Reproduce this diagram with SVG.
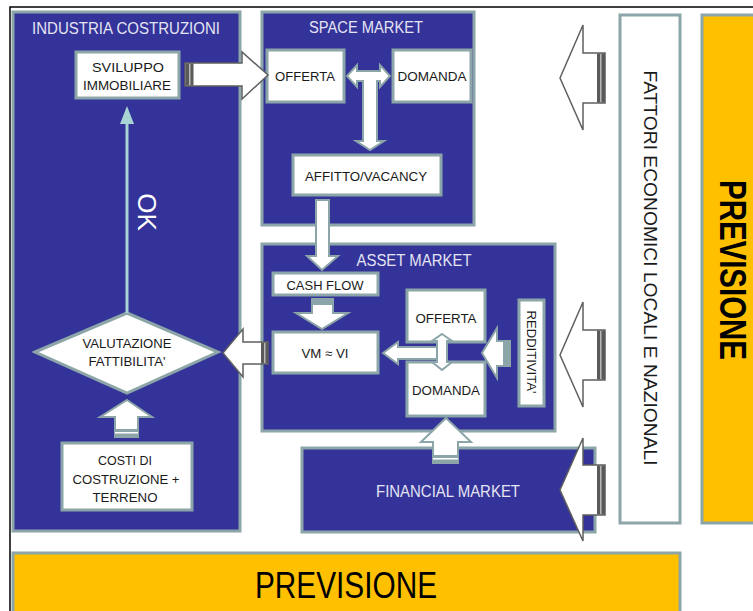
<svg xmlns="http://www.w3.org/2000/svg" width="753" height="611" viewBox="0 0 753 611">
  <style>
    .panel { fill: #333399; stroke: #8ca5a8; stroke-width: 3; }
    .box { fill: #ffffff; stroke: #8ca5a8; stroke-width: 3; }
    .yellow { fill: #ffc000; stroke: #8ca5a8; stroke-width: 3; }
    .title { font-family: "Liberation Sans", Arial, sans-serif; font-size: 16px; fill: #e4e4f4; text-anchor: middle; }
    .lbl { font-family: "Liberation Sans", Arial, sans-serif; font-size: 13px; fill: #1a1a1a; text-anchor: middle; }
    .side { font-size: 19px; }
    .big { font-family: "Liberation Sans", Arial, sans-serif; fill: #000000; text-anchor: middle; }
    .arrowOut { fill: #ffffff; stroke: #5f5f5f; stroke-width: 1.5; stroke-linejoin: miter; }
    .arrowIn { fill: #ffffff; stroke: #8ca5a8; stroke-width: 2; stroke-linejoin: miter; }
    .tailDark { fill: #5a5a5a; }
    .tailLight { fill: #b8b8b8; }
    .tailTeal { fill: #8ca5a8; }
  </style>

  <!-- outer frame lines -->
  <path d="M10,611 V7 H753" fill="none" stroke="#000" stroke-width="1.5"/>

  <!-- forecast bands -->
  <g id="previsione-right">
    <rect class="yellow" x="702" y="15" width="60" height="508"/>
    <text class="big" font-size="37" font-weight="bold" textLength="180" lengthAdjust="spacingAndGlyphs" dominant-baseline="central" transform="translate(732,270) rotate(90)">PREVISIONE</text>
  </g>
  <g id="previsione-bottom">
    <rect class="yellow" x="13" y="553" width="667" height="62"/>
    <text class="big" font-size="36" textLength="182" lengthAdjust="spacingAndGlyphs" x="346" y="598">PREVISIONE</text>
  </g>

  <!-- external economic factors -->
  <g id="fattori">
    <rect class="box" x="620" y="15" width="60" height="508"/>
    <text class="lbl side" textLength="395" lengthAdjust="spacingAndGlyphs" dominant-baseline="central" transform="translate(650,268) rotate(90)">FATTORI ECONOMICI LOCALI E NAZIONALI</text>
  </g>

  <!-- construction industry panel -->
  <g id="industria">
    <rect class="panel" x="13" y="12" width="227" height="519"/>
    <text class="title" x="126" y="34" textLength="188" lengthAdjust="spacingAndGlyphs">INDUSTRIA COSTRUZIONI</text>
  </g>
  <g id="sviluppo">
    <rect class="box" x="76" y="52" width="103" height="46"/>
    <text class="lbl" x="128" y="72" textLength="72" lengthAdjust="spacingAndGlyphs">SVILUPPO</text>
    <text class="lbl" x="127" y="90" textLength="88" lengthAdjust="spacingAndGlyphs">IMMOBILIARE</text>
  </g>
  <g id="valutazione">
    <polygon class="box" points="35,352 127,313 218,352 127,393"/>
    <text class="lbl" x="127" y="348" textLength="89" lengthAdjust="spacingAndGlyphs">VALUTAZIONE</text>
    <text class="lbl" x="127" y="366" textLength="77" lengthAdjust="spacingAndGlyphs">FATTIBILITA'</text>
  </g>
  <g id="costi">
    <rect class="box" x="62" y="443" width="130" height="67"/>
    <text class="lbl" x="125" y="465" textLength="54" lengthAdjust="spacingAndGlyphs">COSTI DI</text>
    <text class="lbl" x="126" y="484" textLength="107" lengthAdjust="spacingAndGlyphs">COSTRUZIONE +</text>
    <text class="lbl" x="125" y="502" textLength="65" lengthAdjust="spacingAndGlyphs">TERRENO</text>
  </g>

  <!-- space market -->
  <g id="space-market">
    <rect class="panel" x="262" y="12" width="212" height="213"/>
    <text class="title" x="366" y="33" textLength="114" lengthAdjust="spacingAndGlyphs">SPACE MARKET</text>
  </g>
  <g id="space-offerta">
    <rect class="box" x="267" y="50" width="77" height="52"/>
    <text class="lbl" x="305" y="81" textLength="60" lengthAdjust="spacingAndGlyphs">OFFERTA</text>
  </g>
  <g id="space-domanda">
    <rect class="box" x="393" y="50" width="78" height="52"/>
    <text class="lbl" x="432" y="81" textLength="69" lengthAdjust="spacingAndGlyphs">DOMANDA</text>
  </g>
  <g id="affitto">
    <rect class="box" x="293" y="155" width="148" height="40"/>
    <text class="lbl" x="366" y="181" textLength="122" lengthAdjust="spacingAndGlyphs">AFFITTO/VACANCY</text>
  </g>

  <!-- asset market -->
  <g id="asset-market">
    <rect class="panel" x="262" y="244" width="293" height="187"/>
    <text class="title" x="414" y="266" textLength="115" lengthAdjust="spacingAndGlyphs">ASSET MARKET</text>
  </g>
  <g id="cash-flow">
    <rect class="box" x="273" y="273" width="105" height="22"/>
    <text class="lbl" x="325" y="290" textLength="77" lengthAdjust="spacingAndGlyphs">CASH FLOW</text>
  </g>
  <g id="vm-vi">
    <rect class="box" x="273" y="332" width="105" height="41"/>
    <text class="lbl" x="325" y="358" textLength="47" lengthAdjust="spacingAndGlyphs">VM ≈ VI</text>
  </g>
  <g id="asset-offerta">
    <rect class="box" x="407" y="290" width="78" height="52"/>
    <text class="lbl" x="446" y="323" textLength="61" lengthAdjust="spacingAndGlyphs">OFFERTA</text>
  </g>
  <g id="asset-domanda">
    <rect class="box" x="407" y="362" width="78" height="54"/>
    <text class="lbl" x="446" y="395" textLength="68" lengthAdjust="spacingAndGlyphs">DOMANDA</text>
  </g>
  <g id="redditivita">
    <rect class="box" x="519" y="300" width="25" height="106"/>
    <text class="lbl" textLength="83" lengthAdjust="spacingAndGlyphs" dominant-baseline="central" transform="translate(531,352) rotate(90)">REDDITIVITA'</text>
  </g>

  <!-- financial market -->
  <g id="financial-market">
    <rect class="panel" x="302" y="448" width="293" height="84"/>
    <text class="title" x="448" y="497" textLength="144" lengthAdjust="spacingAndGlyphs">FINANCIAL MARKET</text>
  </g>

  <!-- connectors -->
  <g id="connectors">
    <!-- OK: feasibility to development -->
    <line x1="127" y1="313" x2="127" y2="122" stroke="#a8d4d4" stroke-width="3"/>
    <polygon points="127,106 120,124 134,124" fill="#a8d4d4"/>
    <text x="147" y="212" font-family="Liberation Sans, Arial, sans-serif" font-size="26" fill="#ffffff" text-anchor="middle" dominant-baseline="central" transform="rotate(90 147 212)">OK</text>

    <!-- development to space supply -->
    <path class="arrowOut" d="M185,63 H242 V52 L268,75 L242,99 V86 H185 Z"/>
    <rect class="tailDark" x="185.5" y="63.5" width="8" height="22"/>
    <rect class="tailLight" x="189" y="64" width="1.5" height="21"/>

    <!-- supply/demand exchange to rent/vacancy -->
    <path class="arrowIn" d="M347,76 L357,65 V71 H380 V65 L390,76 L380,87 V81 H377 V141 H384 L370,150 L356,141 H363 V81 H357 V87 Z"/>

    <!-- rent/vacancy to cash flow -->
    <path class="arrowIn" d="M316,200 H329 V256 H338 L322,270 L307,256 H316 Z"/>

    <!-- cash flow to value -->
    <path class="arrowIn" d="M312,299 H333 V313 H348 L322,329 L296,313 H312 Z"/>
    <rect class="tailTeal" x="312" y="299" width="21" height="6"/>

    <!-- asset supply/demand to value -->
    <path class="arrowIn" d="M383,353 L398,342 V347 H447 V359 H398 V364 Z"/>
    <path class="arrowIn" d="M442,334 L452,341 H447 V362 H452 L442,370 L432,362 H437 V341 H432 Z"/>

    <!-- yield into asset market -->
    <path class="arrowIn" d="M482,353 L497,328 V341 H510 V366 H497 V378 Z"/>
    <rect class="tailTeal" x="503" y="341" width="7" height="25"/>

    <!-- financial market to asset demand -->
    <path class="arrowIn" d="M446,418 L471,442 H458 V463 H433 V442 H421 Z"/>
    <rect class="tailTeal" x="433" y="455" width="25" height="8"/>
    <rect fill="#ffffff" x="433" y="458" width="25" height="1.5"/>

    <!-- value to feasibility -->
    <path class="arrowOut" d="M223,353 L243,329 V342 H268 V364 H243 V377 Z"/>
    <rect class="tailDark" x="261" y="342.5" width="7" height="21"/>
    <rect class="tailLight" x="264" y="343" width="1.5" height="20"/>

    <!-- costs to feasibility -->
    <path class="arrowIn" d="M127,400 L152,417 H138 V437 H115 V417 H100 Z"/>
    <rect class="tailTeal" x="115" y="429" width="23" height="8"/>
    <rect fill="#ffffff" x="115" y="432" width="23" height="1.5"/>

    <!-- external factors into the markets -->
    <path class="arrowOut" d="M560,78 L583,25 V53 H605 V103 H583 V130 Z"/>
    <rect class="tailDark" x="597" y="53.5" width="8" height="49"/>
    <rect class="tailLight" x="600" y="54" width="1.5" height="48"/>

    <path class="arrowOut" d="M560,355 L583,302 V330 H605 V380 H583 V407 Z"/>
    <rect class="tailDark" x="597" y="330.5" width="8" height="49"/>
    <rect class="tailLight" x="600" y="331" width="1.5" height="48"/>

    <path class="arrowOut" d="M560,490 L583,438 V465 H605 V515 H583 V541 Z"/>
    <rect class="tailDark" x="597" y="465.5" width="8" height="49"/>
    <rect class="tailLight" x="600" y="466" width="1.5" height="48"/>
  </g>
</svg>
